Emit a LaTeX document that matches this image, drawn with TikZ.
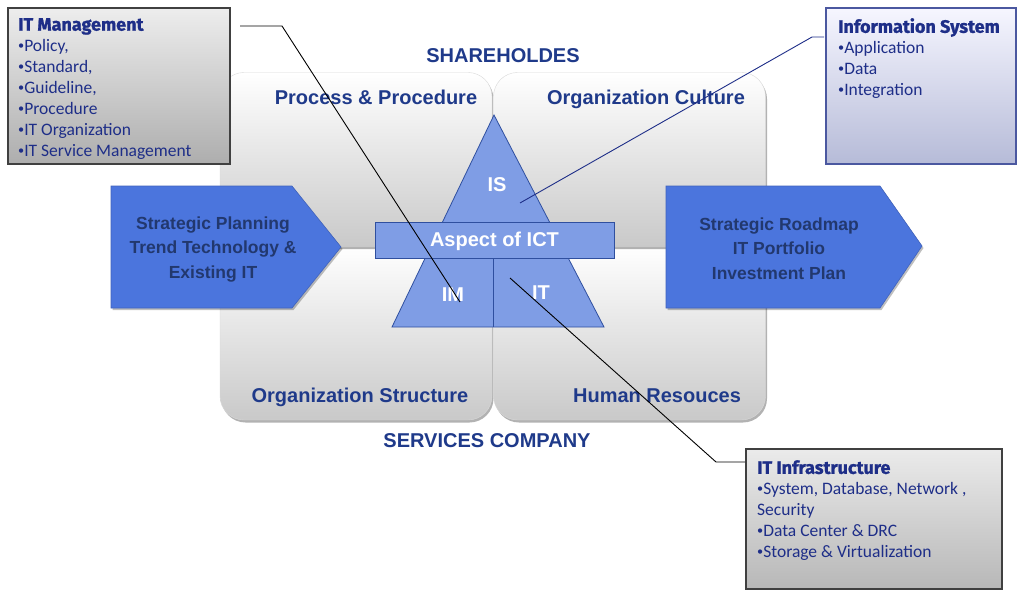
\documentclass[tikz,border=0pt]{standalone}
\usepackage{fontspec}
\setmainfont{Liberation Sans}
\newfontfamily\boxfont{Carlito}
\newfontfamily\boxtitlefont{Fira Sans}[BoldFeatures={FakeBold=1.2}]
\usetikzlibrary{shadows}
\definecolor{navy}{HTML}{1F3A8A}
\definecolor{boxnavy}{HTML}{1E2E88}
\definecolor{arrowblue}{HTML}{4B75DD}
\definecolor{arrowtext}{HTML}{22386E}
\definecolor{triblue}{HTML}{7F9DE5}
\definecolor{triedge}{HTML}{2F4F9F}
\definecolor{quadgray}{HTML}{C9C9C9}
\tikzset{
  quad/.style={rectangle, rounded corners=24pt, minimum width=272pt, minimum height=174pt, inner sep=0pt,
    top color=white, middle color=white!96!black, bottom color=quadgray, draw=white!85!black, line width=0.4pt,
    drop shadow={shadow xshift=1.5pt, shadow yshift=-2.5pt, fill=black, opacity=0.3}},
  quadlabel/.style={font=\fontsize{20}{24}\selectfont\bfseries, text=navy, inner sep=0pt, anchor=base},
  biglabel/.style={font=\fontsize{20}{24}\selectfont\bfseries, text=navy, inner sep=0pt},
  arrowshape/.style={fill=arrowblue, draw=arrowblue!85!black, line width=0.6pt,
    drop shadow={shadow xshift=1.5pt, shadow yshift=-2pt, fill=black, opacity=0.25}},
  arrowtxt/.style={font=\fontsize{17.5}{24.5}\selectfont\bfseries, text=arrowtext, align=center, inner sep=0pt},
  trishape/.style={fill=triblue, draw=triedge, line width=0.8pt},
  tritxt/.style={font=\fontsize{20}{24}\selectfont\bfseries, text=white, inner sep=0pt},
  infobox/.style={draw=#1, line width=1.3pt, rectangle, inner sep=0pt},
  boxtxt/.style={font=\boxfont\fontsize{17.5}{21}\selectfont, text=boxnavy, align=left, inner sep=0pt, anchor=north west},
  callout/.style={line width=0.9pt}
}
\newcommand{\boxtitle}[1]{{\boxtitlefont\bfseries\fontsize{18}{21}\selectfont #1}}
\newcommand{\bul}{\raisebox{0.12em}{\scalebox{0.7}{\textbullet}}}
\begin{document}
\begin{tikzpicture}[x=1pt,y=-1pt]
\useasboundingbox[fill=white] (0,0) rectangle (1024,596);

% quadrants
\node[quad] (qbl) at (356,333) {};
\node[quad] (qbr) at (629.5,333) {};
\node[quad] (qtl) at (356,159.5) {};
\node[quad] (qtr) at (629.5,159.5) {};

\node[quadlabel] (lpp) at (376,105) {Process \& Procedure};
\node[quadlabel] (loc) at (646,105) {Organization Culture};
\node[quadlabel] (los) at (360,402) {Organization Structure};
\node[quadlabel] (lhr) at (657,402) {Human Resouces};

\node[biglabel] (share) at (503,56) {SHAREHOLDES};
\node[biglabel] (serv) at (487,441) {SERVICES COMPANY};

% side arrows
\path[arrowshape] (111,186) -- (292,186) -- (341,247) -- (292,308) -- (111,308) -- cycle;
\node[arrowtxt] (sp) at (213,249.5) {Strategic Planning\\Trend Technology \&\\Existing IT};
\path[arrowshape] (666,186) -- (880,186) -- (922,246) -- (880,308) -- (666,308) -- cycle;
\node[arrowtxt] (sr) at (779,248.5) {Strategic Roadmap\\IT Portfolio\\Investment Plan};

% triangle
\coordinate (apex) at (494,115);
\coordinate (bl) at (392,327);
\coordinate (br) at (604,327);
\path[trishape] (apex) -- (br) -- (bl) -- cycle;
\coordinate (midtop) at (493.5,258);
\coordinate (midbot) at (493.5,327);
\draw[triedge, line width=1pt] (midtop) -- (midbot);
\node[trishape, rectangle, minimum width=239pt, minimum height=36pt, inner sep=0pt] (aspect) at (494.5,240) {};
\node[tritxt] (aspecttxt) at (494.5,241) {Aspect of ICT};
\node[tritxt] (is) at (497,185) {IS};
\node[tritxt] (im) at (453,295) {IM};
\node[tritxt] (it) at (541,293) {IT};

% info boxes
\node[infobox=black!75, minimum width=222pt, minimum height=156pt, top color=white!93!black, bottom color=white!68!black] (itm) at (119,86) {};
\node[boxtxt] (itmtxt) at (18,18) {\boxtitle{IT Management}\\\bul Policy,\\\bul Standard,\\\bul Guideline,\\\bul Procedure\\\bul IT Organization\\\bul IT Service Management};

\node[infobox=boxnavy!80, minimum width=190pt, minimum height=156pt, top color=white!94!blue!60!white, bottom color={rgb,255:red,182;green,187;blue,216}] (isb) at (921,86) {};
\node[boxtxt] (isbtxt) at (838,18) {\boxtitle{Information System}\\\bul Application\\\bul Data\\\bul Integration};

\node[infobox=black!75, minimum width=256pt, minimum height=140pt, top color=white!92!black, bottom color=white!72!black] (itb) at (874,519) {};
\node[boxtxt] (itbtxt) at (757,460) {\boxtitle{IT Infrastructure}\\\bul System, Database, Network ,\\Security\\\bul Data Center \& DRC\\\bul Storage \& Virtualization};

% callout lines
\coordinate (c1a) at (240,26);
\coordinate (c1b) at (282,26);
\coordinate (c1c) at (460,302);
\draw[callout, black] (c1a) -- (c1b) -- (c1c);
\coordinate (c2a) at (520,203);
\coordinate (c2b) at (812,37);
\coordinate (c2c) at (824,37);
\draw[callout, boxnavy] (c2a) -- (c2b) -- (c2c);
\coordinate (c3a) at (510,278);
\coordinate (c3b) at (716,462);
\coordinate (c3c) at (745,462);
\draw[callout, black] (c3a) -- (c3b) -- (c3c);
\end{tikzpicture}
\end{document}
